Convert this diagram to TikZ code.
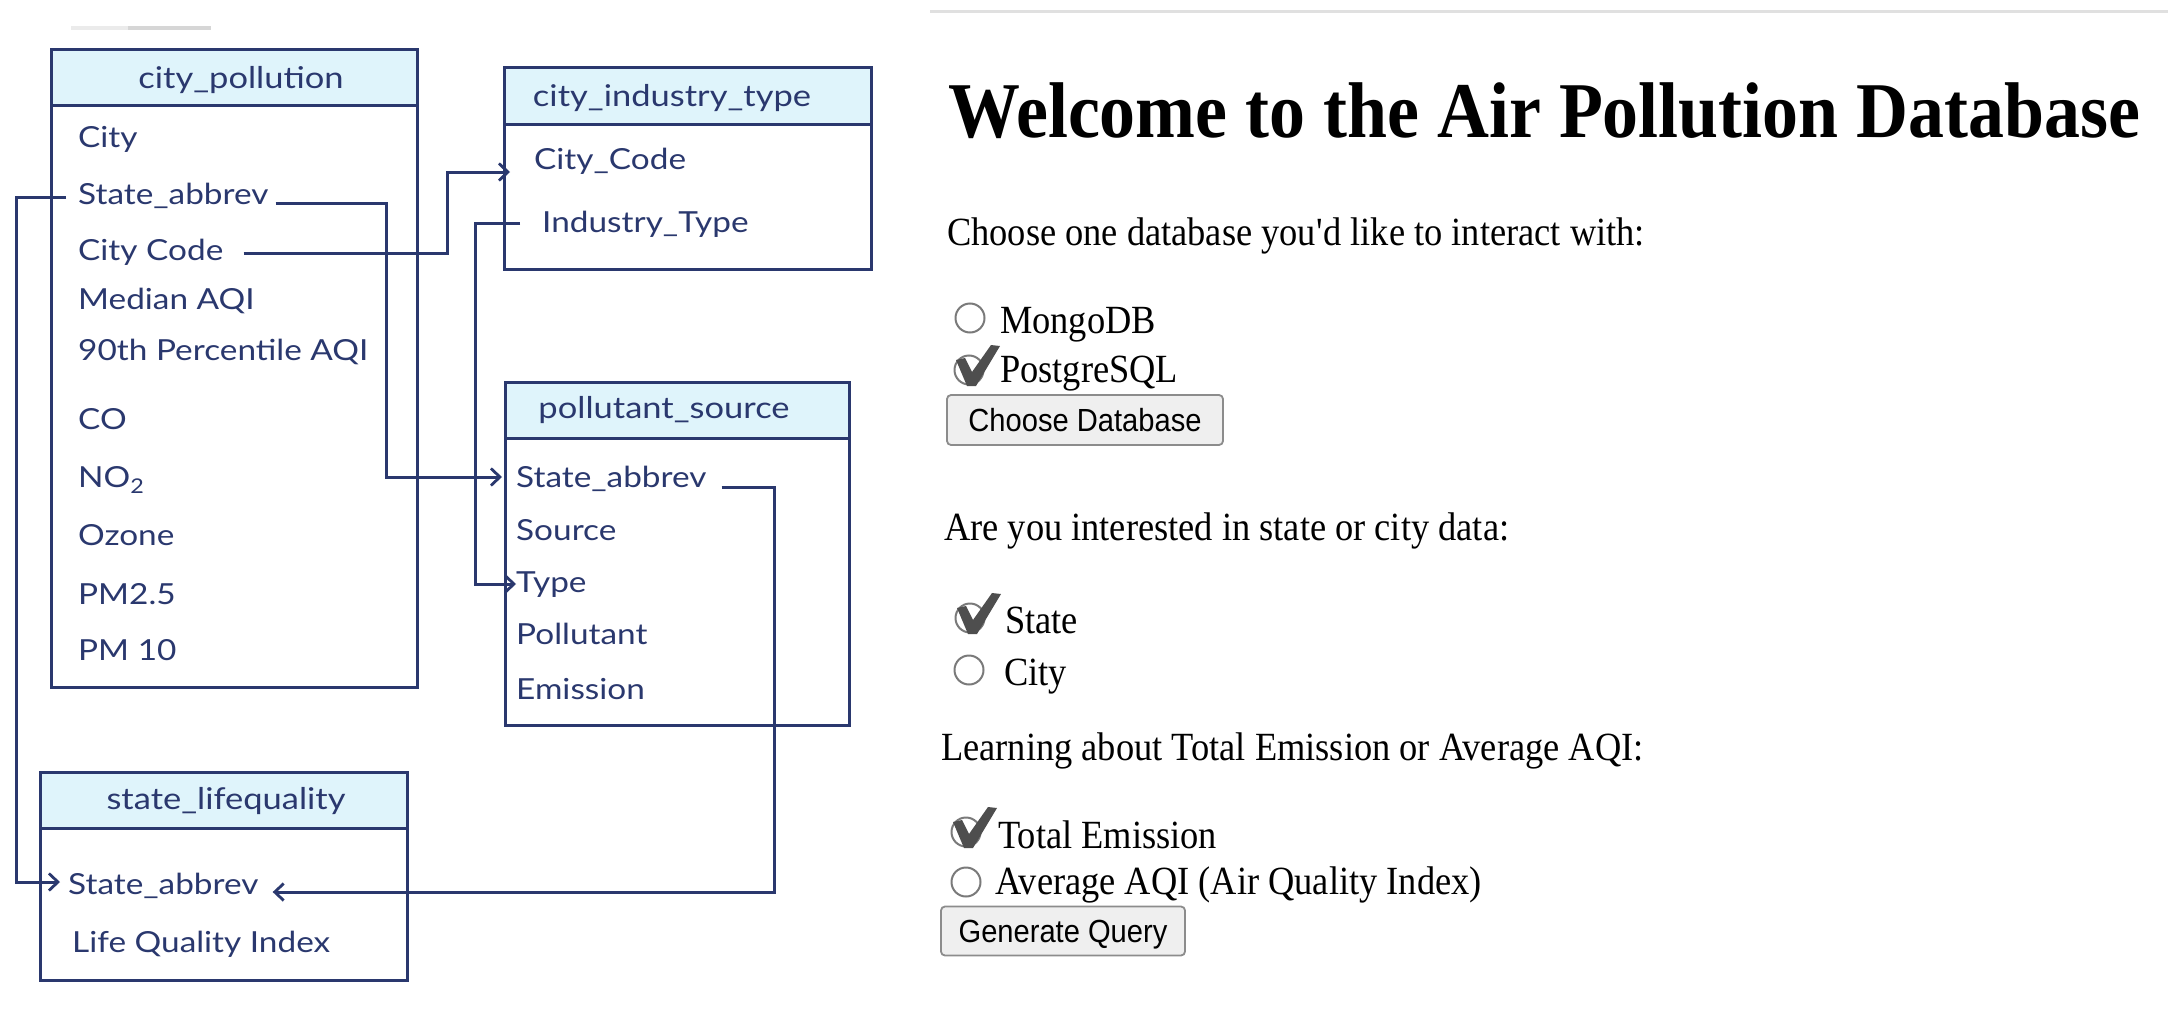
\documentclass[tikz,border=0pt]{standalone}
\usepackage{fontspec}
\usepackage{tikz}
\usetikzlibrary{arrows.meta,calc}
\newfontfamily\webfont[FakeStretch=0.91]{Liberation Serif}
\newfontfamily\btnfont[FakeStretch=0.91]{Liberation Sans}
\newfontfamily\handfont[FakeStretch=1.15]{Lato}
\definecolor{ink}{RGB}{42,56,110}
\definecolor{headblue}{RGB}{223,244,251}
\definecolor{radiogray}{RGB}{122,122,122}
\definecolor{checkgray}{RGB}{78,78,78}
\definecolor{btnfill}{RGB}{239,239,239}
\definecolor{btnline}{RGB}{140,140,140}

\begin{document}
\begin{tikzpicture}[x=1pt,y=-1pt,
  field/.style={anchor=west,inner sep=0pt,text=ink,text height=20pt,text depth=6pt,
    font=\handfont\fontsize{29}{31}\selectfont},
  tabtitle/.style={inner sep=0pt,text=ink,font=\handfont\fontsize{30}{32}\selectfont},
  tbl/.style={draw=ink,line width=3pt},
  link/.style={draw=ink,line width=3pt,-{Straight Barb[length=9pt,width=17pt,line width=2.8pt]}},
  webtext/.style={anchor=base west,inner sep=0pt,font=\webfont\fontsize{40}{48}\selectfont},
  radio/.style={circle,draw=radiogray,line width=2pt,minimum size=29pt,inner sep=0pt},
  button/.style={draw=btnline,fill=btnfill,line width=1.8pt,rounded corners=4pt,inner sep=0pt,
    text height=23pt,text depth=0pt,font=\btnfont\fontsize{32}{36}\selectfont},
  check/.pic={\fill[checkgray] (-13,-10) -- (-4,-12) -- (3,2) -- (22,-25) -- (31,-24) -- (7,16) -- (-2,16) -- cycle;}
]
  \fill[white] (0,0) rectangle (2168,1022);
  \useasboundingbox (0,0) rectangle (2168,1022);

  \draw[line width=4pt,black!8] (71,28) -- (128,28);
  \draw[line width=4pt,black!16] (128,28) -- (211,28);
  \draw[line width=3pt,black!12] (930,12) -- (2168,12);

  \fill[headblue] (51,50) rectangle (417,106);
  \draw[tbl] (51,50) rectangle (417,687) (51,106) -- (417,106);
  \node[tabtitle] (cp-title) at (241,80) {city\_pollution};
  \foreach \y/\nm/\t in {140/city/City,197/state/State\_abbrev,253/code/City Code,302/median/Median AQI,
      353/pct/90th Percentile AQI,422/co/CO,480/no/NO\textsubscript{2},538/ozone/Ozone,597/pmA/PM2.5,653/pmB/PM 10}
    \node[field] (cp-\nm) at (78,\y) {\t};

  \fill[headblue] (504,68) rectangle (871,125);
  \draw[tbl] (504,68) rectangle (871,269) (504,125) -- (871,125);
  \node[tabtitle] (cit-title) at (672,98) {city\_industry\_type};
  \node[field] (cit-code) at (534,162) {City\_Code};
  \node[field] (cit-ind) at (542,225) {Industry\_Type};

  \fill[headblue] (505,382) rectangle (849,438);
  \draw[tbl] (505,382) rectangle (849,725) (505,438) -- (849,438);
  \node[tabtitle] (ps-title) at (664,410) {pollutant\_source};
  \foreach \y/\nm/\t in {480/state/State\_abbrev,533/source/Source,585/type/Type,637/poll/Pollutant,692/emis/Emission}
    \node[field] (ps-\nm) at (516,\y) {\t};

  \fill[headblue] (40,772) rectangle (407,828);
  \draw[tbl] (40,772) rectangle (407,980) (40,828) -- (407,828);
  \node[tabtitle] (sl-title) at (226,801) {state\_lifequality};
  \node[field] (sl-state) at (68,887) {State\_abbrev};
  \node[field] (sl-lqi) at (72,945) {Life Quality Index};

  \coordinate (laneW) at (16,500);
  \coordinate (laneS) at (386,340);
  \coordinate (laneC) at (447,210);
  \coordinate (laneI) at (475,400);
  \coordinate (laneE) at (774,700);
  \draw[link] ([xshift=-12pt]cp-state.west) -| (laneW) |- ([xshift=-8pt,yshift=5pt]sl-state.west);
  \draw[link] ([xshift=7pt,yshift=-6pt]cp-state.east) -| (laneS) |- ([xshift=-14pt,yshift=3pt]ps-state.west);
  \draw[link] ([xshift=20pt]cp-code.east) -| (laneC) |- ([xshift=-24pt,yshift=-10pt]cit-code.west);
  \draw[link] ([xshift=-22pt,yshift=2pt]cit-ind.west) -| (laneI) |- ([yshift=1pt]ps-type.west);
  \draw[link] ([xshift=15pt,yshift=-7pt]ps-state.east) -| (laneE) |- ([xshift=14pt,yshift=-5pt]sl-state.east);

  \node[webtext,font=\webfont\bfseries\fontsize{79}{90}\selectfont] (title) at (948,138) {Welcome to the Air Pollution Database};

  \node[webtext] (askDb) at (947,245) {Choose one database you\textquotesingle d like to interact with:};
  \node[radio] (rMongo) at (970,318) {};
  \node[webtext] (optMongo) at (1000,333) {MongoDB};
  \node[radio] (rPg) at (969,370) {};
  \pic at (rPg.center) {check};
  \node[webtext] (optPg) at (1000,382) {PostgreSQL};
  \node[button,minimum width=276pt,minimum height=50pt] (btnDb) at (1085,420) {Choose Database};

  \node[webtext] (askLevel) at (944,540) {Are you interested in state or city data:};
  \node[radio] (rState) at (970,618) {};
  \pic at (rState.center) {check};
  \node[webtext] (optState) at (1005,633) {State};
  \node[radio] (rCity) at (969,670) {};
  \node[webtext] (optCity) at (1004,685) {City};

  \node[webtext] (askMetric) at (941,760) {Learning about Total Emission or Average AQI:};
  \node[radio] (rTotal) at (966,832) {};
  \pic at (rTotal.center) {check};
  \node[webtext] (optTotal) at (998,848) {Total Emission};
  \node[radio] (rAvg) at (966,882) {};
  \node[webtext] (optAvg) at (995,894) {Average AQI (Air Quality Index)};
  \node[button,minimum width=244pt,minimum height=49pt] (btnQuery) at (1063,931) {Generate Query};
\end{tikzpicture}
\end{document}
